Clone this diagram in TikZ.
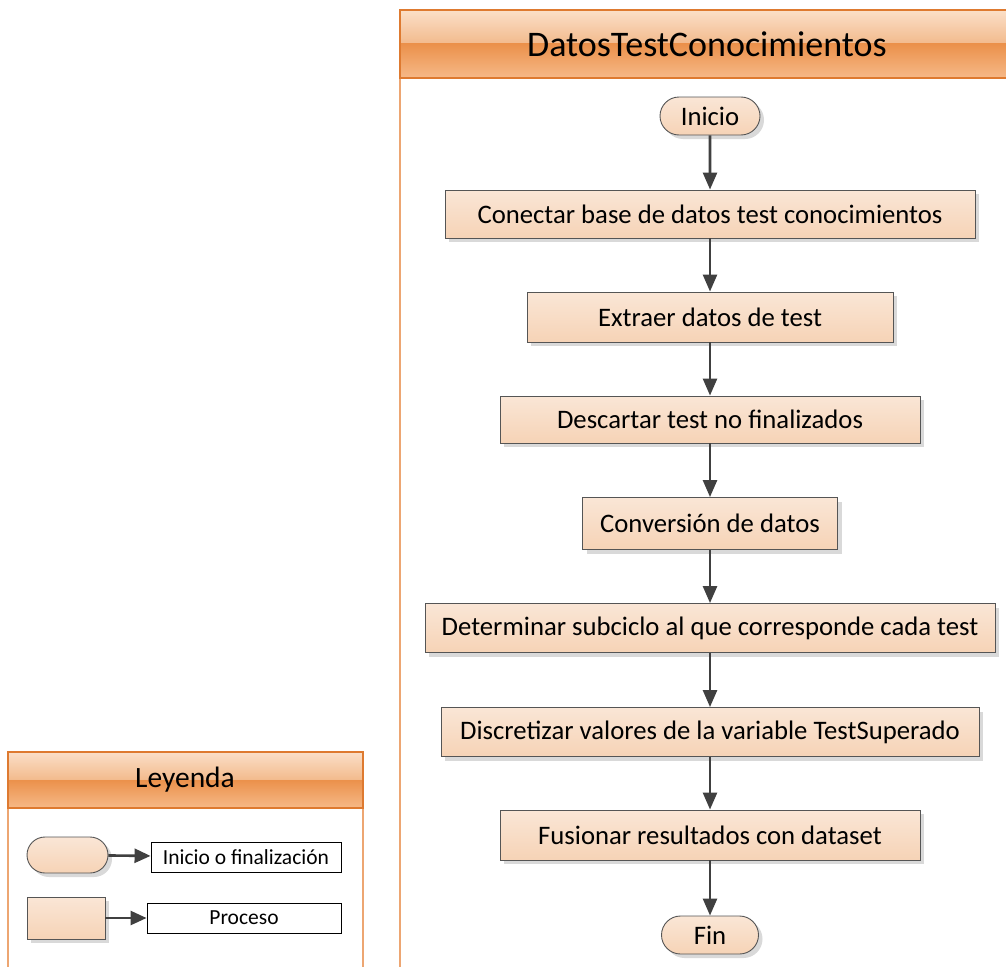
\documentclass[tikz,border=0pt]{standalone}
\usepackage{fontspec}
\setmainfont{Carlito}
\usetikzlibrary{arrows.meta,shadows,shapes.misc}

\definecolor{boxtop}{HTML}{FAE6D6}
\definecolor{boxbot}{HTML}{F6D3B6}
\definecolor{boxline}{HTML}{555555}
\definecolor{flowline}{HTML}{404040}
\definecolor{hdrA}{HTML}{FBDFC8}
\definecolor{hdrB}{HTML}{F2BA8C}
\definecolor{hdrC}{HTML}{EB914B}
\definecolor{hdrD}{HTML}{F6B988}
\definecolor{hdrline}{HTML}{DE7A30}
\definecolor{poolline}{HTML}{EDA672}

\tikzset{
  flowbox/.style={rectangle, draw=boxline, line width=0.9pt, top color=boxtop, bottom color=boxbot,
    inner sep=0pt, font=\fontsize{26.7}{30}\selectfont,
    drop shadow={shadow xshift=4pt, shadow yshift=-4pt, fill=black!15, opacity=1}},
  termbox/.style={flowbox, rounded rectangle},
  legtext/.style={rectangle, draw=black, line width=0.9pt, fill=white, inner sep=0pt,
    font=\fontsize{21.5}{25}\selectfont},
  flow/.style={draw=flowline, line width=2.6pt, -{Triangle[width=14pt,length=17pt]}},
  legflow/.style={draw=flowline, line width=2.6pt, -{Triangle[width=14pt,length=16pt]}},
  pool/.style={draw=poolline, line width=1.2pt, fill=white},
}

\begin{document}
\begin{tikzpicture}[x=1pt,y=-1pt]
\useasboundingbox (0,0) rectangle (1006,966);
\begin{scope}
\clip (0,0) rectangle (1006,966);

% main swimlane
\draw[pool] (400,10) rectangle (1020,980);
\shade[top color=hdrA, bottom color=hdrB] (400,10) rectangle (1020,44);
\shade[top color=hdrC, bottom color=hdrD] (400,44) rectangle (1020,78);
\draw[hdrline, line width=1.5pt] (400,10) rectangle (1020,78);
\node (title) at (707,44) {\fontsize{36}{42}\selectfont DatosTestConocimientos};

% legend swimlane
\draw[pool] (8,752) rectangle (363,980);
\shade[top color=hdrA, bottom color=hdrB] (8,752) rectangle (363,780);
\shade[top color=hdrC, bottom color=hdrD] (8,780) rectangle (363,808);
\draw[hdrline, line width=1.5pt] (8,752) rectangle (363,808);
\node (legtitle) at (185,780) {\fontsize{29.5}{34}\selectfont Leyenda};
\end{scope}

% flow steps
\node[termbox, minimum width=100pt, minimum height=38pt] (inicio) at (710,116) {Inicio};
\node[flowbox, minimum width=530pt, minimum height=48pt] (conectar) at (710,214) {Conectar base de datos test conocimientos};
\node[flowbox, minimum width=366pt, minimum height=50pt] (extraer) at (710,317) {Extraer datos de test};
\node[flowbox, minimum width=420pt, minimum height=47pt] (descartar) at (710,419.5) {Descartar test no finalizados};
\node[flowbox, minimum width=255pt, minimum height=52pt] (conversion) at (710,523.5) {Conversión de datos};
\node[flowbox, minimum width=570pt, minimum height=49pt] (determinar) at (710,628) {Determinar subciclo al que corresponde cada test};
\node[flowbox, minimum width=538pt, minimum height=49pt] (discretizar) at (710,732) {Discretizar valores de la variable TestSuperado};
\node[flowbox, minimum width=420pt, minimum height=50pt] (fusionar) at (710,835) {Fusionar resultados con dataset};
\node[termbox, minimum width=97pt, minimum height=38pt] (fin) at (710,935) {Fin};

\draw[flow] (inicio) -- (conectar);
\draw[flow] (conectar) -- (extraer);
\draw[flow] (extraer) -- (descartar);
\draw[flow] (descartar) -- (conversion);
\draw[flow] (conversion) -- (determinar);
\draw[flow] (determinar) -- (discretizar);
\draw[flow] (discretizar) -- (fusionar);
\draw[flow] (fusionar) -- (fin);

% legend entries
\node[termbox, minimum width=81pt, minimum height=36pt] (lterm) at (67.5,855) {};
\node[legtext, minimum width=190pt, minimum height=30pt] (linicio) at (246,857) {Inicio o finalización};
\node[flowbox, minimum width=78pt, minimum height=42pt] (lproc) at (66,918) {};
\node[legtext, minimum width=194pt, minimum height=30pt] (lproceso) at (244,918) {Proceso};

\draw[legflow] (lterm) -- (linicio);
\draw[legflow] (lproc) -- (lproceso);
\end{tikzpicture}
\end{document}
